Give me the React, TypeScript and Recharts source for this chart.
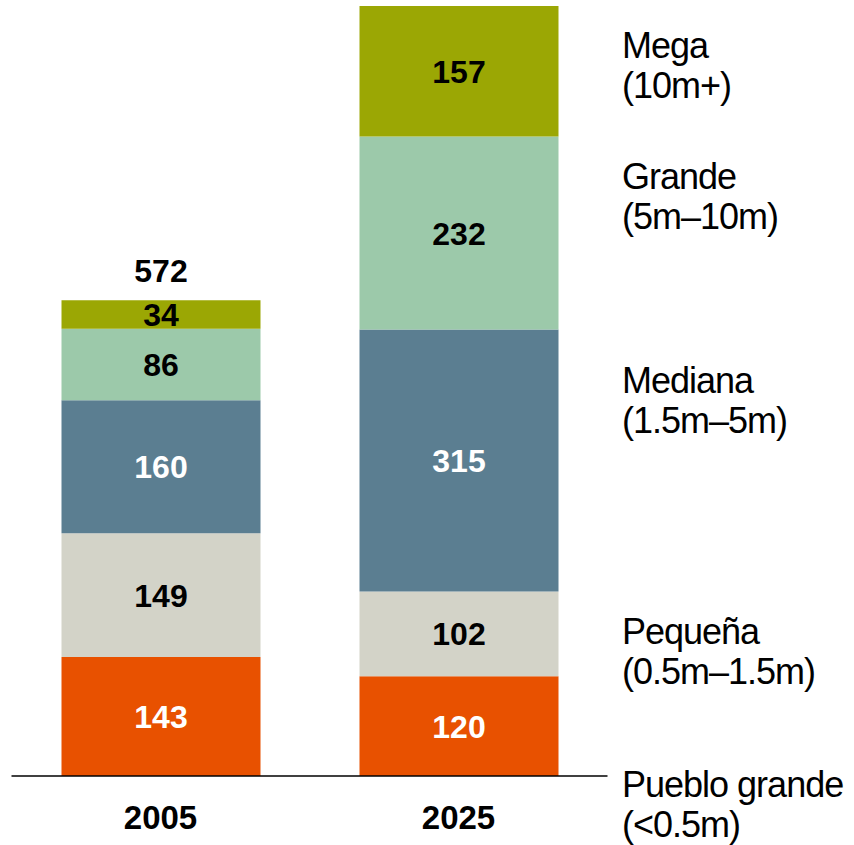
import React from 'react';
import { BarChart, Bar, XAxis, YAxis, LabelList } from 'recharts';

const years = ['2005', '2025'];
const puebloGrande = [143, 120];
const pequena = [149, 102];
const mediana = [160, 315];
const grande = [86, 232];
const mega = [34, 157];
const totalLabels = ['572', ''];

const seriesNames = ['Pueblo grande', 'Pequeña', 'Mediana', 'Grande', 'Mega'];
const seriesRanges = ['(<0.5m)', '(0.5m–1.5m)', '(1.5m–5m)', '(5m–10m)', '(10m+)'];
const seriesKeys = ['pueblo', 'pequena', 'mediana', 'grande', 'mega'];
const seriesColors = ['#E85100', '#D3D3C8', '#5B7E91', '#9CC9AA', '#9BA704'];
const labelColors = ['#FFFFFF', '#000000', '#FFFFFF', '#000000', '#000000'];
const legendBaselines = [797, 644, 393, 189, 58];

const data = years.map((y, i) => ({
  year: y,
  pueblo: puebloGrande[i],
  pequena: pequena[i],
  mediana: mediana[i],
  grande: grande[i],
  mega: mega[i],
  total: totalLabels[i],
}));

const maxTotal = Math.max(
  ...years.map((_, i) => puebloGrande[i] + pequena[i] + mediana[i] + grande[i] + mega[i])
);

const NUM_FONT = "'Liberation Sans', Arial, sans-serif";
const NARROW_FONT = "'Liberation Sans Narrow', 'Arial Narrow', 'Liberation Sans', sans-serif";

const YearTick = (props: any) => {
  const { x, y, payload } = props;
  return (
    <text x={x} y={y} dy={45} textAnchor="middle" fontFamily={NUM_FONT} fontWeight="bold" fontSize={33} fill="#000">
      {payload.value}
    </text>
  );
};

const makeCenterLabel = (color: string) => (props: any) => {
  const { x, y, width, height, value } = props;
  return (
    <text
      x={x + width / 2}
      y={y + height / 2}
      dy={11.5}
      textAnchor="middle"
      fontFamily={NUM_FONT}
      fontWeight="bold"
      fontSize={32}
      fill={color}
    >
      {value}
    </text>
  );
};

const TotalLabel = (props: any) => {
  const { x, y, width, value } = props;
  if (!value) return null;
  return (
    <text x={x + width / 2} y={y - 18.5} textAnchor="middle" fontFamily={NUM_FONT} fontWeight="bold" fontSize={32} fill="#000">
      {value}
    </text>
  );
};

export default function App() {
  return (
    <div style={{ position: 'absolute', left: 0, top: 0, width: 854, height: 845, background: '#fff' }}>
      <BarChart
        width={854}
        height={845}
        data={data}
        margin={{ top: 6, right: 246.5, bottom: 9, left: 11.5 }}
      >
        <XAxis
          dataKey="year"
          height={60}
          axisLine={{ stroke: '#000', strokeWidth: 1.3 }}
          tickLine={false}
          tick={<YearTick />}
        />
        <YAxis hide domain={[0, maxTotal]} />
        {seriesKeys.map((k, i) => (
          <Bar key={k} dataKey={k} stackId="s" fill={seriesColors[i]} barSize={199} isAnimationActive={false}>
            <LabelList dataKey={k} content={makeCenterLabel(labelColors[i])} />
            {i === seriesKeys.length - 1 ? <LabelList dataKey="total" content={<TotalLabel />} /> : null}
          </Bar>
        ))}
      </BarChart>
      <svg width={854} height={845} style={{ position: 'absolute', left: 0, top: 0, pointerEvents: 'none' }}>
        {seriesNames.map((n, i) => (
          <text key={n} x={622} y={legendBaselines[i]} fontFamily={NARROW_FONT} fontSize={36} letterSpacing={-1} fill="#000">
            <tspan x={622}>{n}</tspan>
            <tspan x={622} dy={40}>{seriesRanges[i]}</tspan>
          </text>
        ))}
      </svg>
    </div>
  );
}
